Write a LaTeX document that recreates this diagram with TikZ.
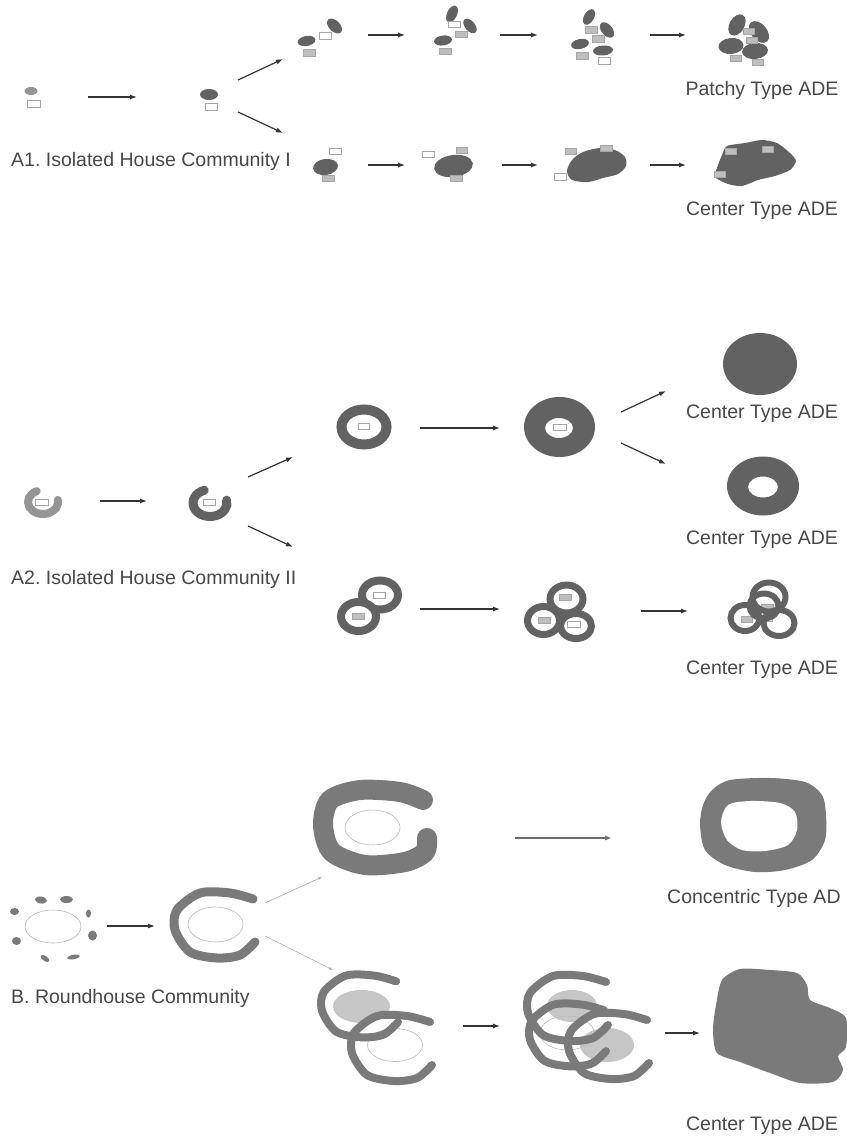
\documentclass[tikz,border=0pt]{standalone}
\usepackage{fontspec}
\setmainfont{Liberation Sans}
\usetikzlibrary{arrows.meta}
\frenchspacing
\definecolor{adedark}{HTML}{626262}
\definecolor{adelight}{HTML}{959595}
\definecolor{bandgray}{HTML}{7A7A7A}
\definecolor{floorgray}{HTML}{C6C6C6}
\definecolor{hutline}{HTML}{A6A6A6}
\definecolor{hutfill}{HTML}{BEBEBE}
\definecolor{txtgray}{HTML}{474747}
\definecolor{arrowgray}{HTML}{343434}

\begin{document}
\begin{tikzpicture}[x=1pt,y=-1pt,
  flow/.style={-{Latex[length=7pt,width=5pt]},draw=arrowgray,line width=1.2pt},
  thinflow/.style={-{Latex[length=4pt,width=3pt]},draw=gray!65,line width=.6pt},
  lbl/.style={font=\fontsize{19.5}{23}\selectfont,text=txtgray,inner sep=0pt},
  blob/.style={fill=adedark},
  hut/.style={draw=hutline,fill=white,line width=.9pt},
  hutg/.style={draw=hutline,fill=hutfill,line width=.9pt},
  ring/.style={draw=adedark,fill=white,line width=#1},
  ring/.default=8pt,
  band/.style={draw=bandgray,line width=#1,line cap=round,line join=round},
  band/.default=8pt,
  floor/.style={draw=gray!55,line width=.6pt},
  fuzzy/.style={fill=floorgray}]
   \useasboundingbox (0,0) rectangle (846,1137);

   % A1: isolated houses
   \fill[adelight] (31,91) ellipse [x radius=6.5, y radius=4];
   \draw[hut] (27,100) rectangle +(13,7);
   \fill[blob] (209,94.5) ellipse [x radius=9, y radius=5.5];
   \draw[hut] (205.5,103.5) rectangle +(12,7);
   % upper branch
   \fill[blob] (306.5,41) ellipse [x radius=9, y radius=5, rotate=10];
   \fill[blob] (334.5,26) ellipse [x radius=9, y radius=5.5, rotate=-45];
   \draw[hut] (319.5,32) rectangle +(12,7);
   \draw[hutg] (303.5,49) rectangle +(12,7);
   \fill[blob] (452,14) ellipse [x radius=9, y radius=5, rotate=65];
   \fill[blob] (470,26) ellipse [x radius=8.5, y radius=5, rotate=-50];
   \fill[blob] (443,40.5) ellipse [x radius=9, y radius=5, rotate=8];
   \draw[hut] (448,21) rectangle +(12,6);
   \draw[hutg] (455,31.5) rectangle +(12,6);
   \draw[hutg] (439.5,48) rectangle +(12,6);
   \fill[blob] (589,17) ellipse [x radius=8.5, y radius=5, rotate=60];
   \fill[blob] (607,30) ellipse [x radius=9, y radius=5.5, rotate=-50];
   \fill[blob] (580,44) ellipse [x radius=9, y radius=5, rotate=12];
   \fill[blob] (603,50.5) ellipse [x radius=10, y radius=5, rotate=5];
   \draw[hutg] (585,26) rectangle +(12,7);
   \draw[hutg] (592.5,35.5) rectangle +(12,7);
   \draw[hutg] (576,52) rectangle +(12,7);
   \draw[hut] (598,57) rectangle +(12,7);
   \fill[blob] (737,25) ellipse [x radius=11.5, y radius=7.5, rotate=60];
   \fill[blob] (759,32) ellipse [x radius=12.5, y radius=8, rotate=-50];
   \fill[blob] (731,46) ellipse [x radius=12.5, y radius=8, rotate=5];
   \fill[blob] (755,51) ellipse [x radius=13, y radius=8, rotate=5];
   \draw[hutg] (743,28) rectangle +(11,6);
   \draw[hutg] (746.5,37) rectangle +(11,6);
   \draw[hutg] (730,55) rectangle +(11,6);
   \draw[hutg] (752,59) rectangle +(11,6);
   % lower branch
   \fill[blob] (325.5,167) ellipse [x radius=12.5, y radius=8, rotate=8];
   \draw[hut] (329.5,148.5) rectangle +(12,6);
   \draw[hutg] (322.5,175.5) rectangle +(12,6);
   \fill[blob] (453.5,166) ellipse [x radius=19.5, y radius=11, rotate=8];
   \draw[hut] (422,151) rectangle +(12,6);
   \draw[hutg] (456,147) rectangle +(11,6);
   \draw[hutg] (450,175) rectangle +(12,6);
   \fill[blob] plot[smooth cycle,tension=.5] coordinates {(572,160) (583,152) (600,148) (615,150) (625,157) (626,166) (618,174) (603,178) (588,182) (572,180) (567,171)};
   \draw[hutg] (565,148.5) rectangle +(11,6);
   \draw[hutg] (600,145.5) rectangle +(12,6);
   \draw[hut] (554.5,173) rectangle +(12,7);
   \fill[blob] plot[smooth cycle,tension=.4] coordinates {(727,146) (745,143) (762,140) (777,143) (790,153) (796,161) (790,170) (775,176) (758,180) (742,186) (728,184) (715,177) (718,165) (722,155)};
   \draw[hutg] (725,148) rectangle +(11,6);
   \draw[hutg] (762,146) rectangle +(11,6);
   \draw[hutg] (714.5,171.5) rectangle +(11,6);

   \coordinate (a1s) at (88,97);   \coordinate (a1e) at (137,97);
   \coordinate (a1us) at (238,80); \coordinate (a1ue) at (283,59);
   \coordinate (a1ds) at (238,112); \coordinate (a1de) at (283,133);
   \coordinate (a1u1s) at (368,35); \coordinate (a1u1e) at (405,35);
   \coordinate (a1u2s) at (500,35); \coordinate (a1u2e) at (538,35);
   \coordinate (a1u3s) at (650,35); \coordinate (a1u3e) at (686,35);
   \coordinate (a1l1s) at (368,165); \coordinate (a1l1e) at (405,165);
   \coordinate (a1l2s) at (502,165); \coordinate (a1l2e) at (538,165);
   \coordinate (a1l3s) at (650,165); \coordinate (a1l3e) at (686,165);
   \draw[flow] (a1s) -- (a1e);
   \draw[flow] (a1us) -- (a1ue);
   \draw[flow] (a1ds) -- (a1de);
   \draw[flow] (a1u1s) -- (a1u1e);
   \draw[flow] (a1u2s) -- (a1u2e);
   \draw[flow] (a1u3s) -- (a1u3e);
   \draw[flow] (a1l1s) -- (a1l1e);
   \draw[flow] (a1l2s) -- (a1l2e);
   \draw[flow] (a1l3s) -- (a1l3e);

   \node[lbl,anchor=base west] (labA1) at (11,166) {A1. Isolated House Community I};
   \node[lbl,anchor=base] (patchy) at (762,96) {Patchy Type ADE};
   \node[lbl,anchor=base] (centerA1) at (762,215) {Center Type ADE};

   % A2: houses with ring fields
   \draw[draw=adelight,line width=8pt,line cap=round] (43,502) ++(-115:15 and 12) arc [start angle=-115, end angle=-370, x radius=15, y radius=12];
   \draw[hut] (35.5,499) rectangle +(13,6);
   \draw[draw=adedark,line width=9pt,line cap=round] (210,503) ++(-110:17 and 13.5) arc [start angle=-110, end angle=-372, x radius=17, y radius=13.5];
   \draw[hut] (203,499) rectangle +(12,6);
   \draw[ring=10pt] (364,427) ellipse [x radius=22.5, y radius=17.5];
   \draw[hut] (358,423) rectangle +(11,6);
   \fill[adedark,even odd rule] (559.5,427) ellipse [x radius=35.5, y radius=30] (559,428) ellipse [x radius=14, y radius=10];
   \draw[hut] (553.5,424.5) rectangle +(13,6);
   \fill[adedark] (760,364) ellipse [x radius=37, y radius=31];
   \fill[adedark,even odd rule] (763,486) ellipse [x radius=36, y radius=29.5] (763,487) ellipse [x radius=15, y radius=10.5];
   % pairs and triples
   \draw[ring] (380,595) ellipse [x radius=18, y radius=14.5];
   \draw[ring] (358.5,616.5) ellipse [x radius=17.5, y radius=14.5];
   \draw[hut] (373.5,592) rectangle +(12,6);
   \draw[hutg] (352,613) rectangle +(12,6);
   \draw[ring=7pt] (566.5,599) ellipse [x radius=16.5, y radius=14];
   \draw[ring=7pt] (543.5,620.5) ellipse [x radius=16, y radius=14];
   \draw[ring=7pt] (576,626) ellipse [x radius=15.5, y radius=12.5];
   \draw[hutg] (559.5,594.5) rectangle +(12,6);
   \draw[hutg] (538.5,617) rectangle +(12,6);
   \draw[hut] (567.5,621) rectangle +(13,6);
   \draw[hutg] (761,604) rectangle +(12,6);
   \draw[hut] (760,615) rectangle +(12,6);
   \draw[hutg] (741,616) rectangle +(11,6);
   \draw[ring=6pt,fill=none] (769,597) ellipse [x radius=16.5, y radius=14.5];
   \draw[ring=6pt,fill=none] (764,606) ellipse [x radius=14.5, y radius=12.5];
   \draw[ring=6pt,fill=none] (745,618) ellipse [x radius=14.5, y radius=13];
   \draw[ring=6pt,fill=none] (779,623) ellipse [x radius=15.5, y radius=13];

   \coordinate (a2s) at (100,501);   \coordinate (a2e) at (147,501);
   \coordinate (a2us) at (248,477);  \coordinate (a2ue) at (293,457);
   \coordinate (a2ds) at (248,526);  \coordinate (a2de) at (293,547);
   \coordinate (a2u1s) at (420,428); \coordinate (a2u1e) at (500,428);
   \coordinate (a2fs) at (621,412);  \coordinate (a2fe) at (666,391);
   \coordinate (a2gs) at (621,443);  \coordinate (a2ge) at (666,464);
   \coordinate (a2l1s) at (420,609); \coordinate (a2l1e) at (500,609);
   \coordinate (a2l2s) at (641,611); \coordinate (a2l2e) at (688,611);
   \draw[flow] (a2s) -- (a2e);
   \draw[flow] (a2us) -- (a2ue);
   \draw[flow] (a2ds) -- (a2de);
   \draw[flow] (a2u1s) -- (a2u1e);
   \draw[flow] (a2fs) -- (a2fe);
   \draw[flow] (a2gs) -- (a2ge);
   \draw[flow] (a2l1s) -- (a2l1e);
   \draw[flow] (a2l2s) -- (a2l2e);

   \node[lbl,anchor=base west] (labA2) at (11,584) {A2. Isolated House Community II};
   \node[lbl,anchor=base] (centerA2a) at (762,418) {Center Type ADE};
   \node[lbl,anchor=base] (centerA2b) at (762,544) {Center Type ADE};
   \node[lbl,anchor=base] (centerA2c) at (762,674) {Center Type ADE};

   % B: roundhouses
   \draw[floor] (53,926.5) ellipse [x radius=28, y radius=16.5];
   \fill[bandgray] (14.5,911.5) ellipse [x radius=4.5, y radius=3.5];
   \fill[bandgray] (41,900) ellipse [x radius=6, y radius=3.5, rotate=-8];
   \fill[bandgray] (66.5,899.5) ellipse [x radius=6.5, y radius=3.5];
   \fill[bandgray] (88.5,913.5) ellipse [x radius=2.5, y radius=4];
   \fill[bandgray] (92.5,935.5) ellipse [x radius=4.5, y radius=5];
   \fill[bandgray] (16.5,941) ellipse [x radius=4.5, y radius=4];
   \fill[bandgray] (45,958.5) ellipse [x radius=5, y radius=2.5, rotate=-35];
   \fill[bandgray] (73.5,957) ellipse [x radius=6.5, y radius=2.2, rotate=10];
   \draw[floor] (215.5,924.5) ellipse [x radius=27.5, y radius=17.5];
   \draw[band=9pt,shift={(215,925)}] plot[smooth] coordinates {(38,-26) (15,-32) (-15,-32) (-38,-15) (-40,5) (-25,27) (2,33) (25,30) (40,17)};
   % upper branch
   \draw[band=20pt] plot[smooth] coordinates {(423,800) (400,792) (360,790) (330,800) (323,825) (332,852) (365,865) (405,862) (425,852) (427,838)};
   \draw[floor] (372.5,827.5) ellipse [x radius=27.5, y radius=17.5];
   \fill[bandgray] plot[smooth cycle,tension=.5] coordinates {(712,790) (730,780) (770,778) (805,782) (822,795) (826,815) (825,840) (812,860) (785,870) (755,872) (725,865) (705,850) (700,825) (703,805)};
   \fill[white] plot[smooth cycle,tension=.5] coordinates {(728,805) (750,801) (780,803) (795,812) (797,830) (788,845) (765,851) (742,850) (727,840) (721,822)};
   % lower branch
   \fill[fuzzy] (361.5,1006.5) ellipse [x radius=28.5, y radius=16.5];
   \draw[floor] (395,1045) ellipse [x radius=27.5, y radius=16.5];
   \draw[band,shift={(360,1006)},scale=.95] plot[smooth] coordinates {(38,-26) (15,-32) (-15,-32) (-38,-15) (-40,5) (-25,27) (2,33) (25,30) (40,17)};
   \draw[band,shift={(392,1048)}] plot[smooth] coordinates {(38,-26) (15,-32) (-15,-32) (-38,-15) (-40,5) (-25,27) (2,33) (25,30) (40,17)};
   \fill[fuzzy] (572,1006) ellipse [x radius=25, y radius=16];
   \fill[fuzzy] (607,1045) ellipse [x radius=27, y radius=17];
   \draw[floor] (567,1033) ellipse [x radius=27, y radius=17];
   \draw[band,shift={(568,1008)}] plot[smooth] coordinates {(38,-26) (15,-32) (-15,-32) (-38,-15) (-40,5) (-25,27) (2,33) (25,30) (40,17)};
   \draw[band,shift={(568,1035)},scale=.95] plot[smooth] coordinates {(38,-26) (15,-32) (-15,-32) (-38,-15) (-40,5) (-25,27) (2,33) (25,30) (40,17)};
   \draw[band,shift={(609,1046)}] plot[smooth] coordinates {(38,-26) (15,-32) (-15,-32) (-38,-15) (-40,5) (-25,27) (2,33) (25,30) (40,17)};
   \fill[bandgray] plot[smooth cycle,tension=.45] coordinates {(722,980) (740,969) (770,970) (797,973) (807,985) (810,1000) (830,1008) (846,1018) (846,1047) (838,1056) (843,1070) (833,1082) (800,1083) (770,1073) (740,1062) (717,1053) (713,1030) (716,1005)};

   \coordinate (bs) at (107,926);   \coordinate (be) at (155,926);
   \coordinate (bus) at (265,903);  \coordinate (bue) at (322,877);
   \coordinate (bds) at (265,936);  \coordinate (bde) at (333,970);
   \coordinate (bu1s) at (515,838); \coordinate (bu1e) at (612,838);
   \coordinate (bl1s) at (463,1026); \coordinate (bl1e) at (500,1026);
   \coordinate (bl2s) at (665,1033); \coordinate (bl2e) at (700,1033);
   \draw[flow] (bs) -- (be);
   \draw[thinflow] (bus) -- (bue);
   \draw[thinflow] (bds) -- (bde);
   \draw[flow,draw=gray!85!black,line width=1.8pt] (bu1s) -- (bu1e);
   \draw[flow] (bl1s) -- (bl1e);
   \draw[flow] (bl2s) -- (bl2e);

   \node[lbl,anchor=base west] (labB) at (11,1003) {B. Roundhouse Community};
   \node[lbl,anchor=base west] (concentric) at (667,903) {Concentric Type AD};
   \node[lbl,anchor=base] (centerB) at (762,1130) {Center Type ADE};
\end{tikzpicture}
\end{document}
